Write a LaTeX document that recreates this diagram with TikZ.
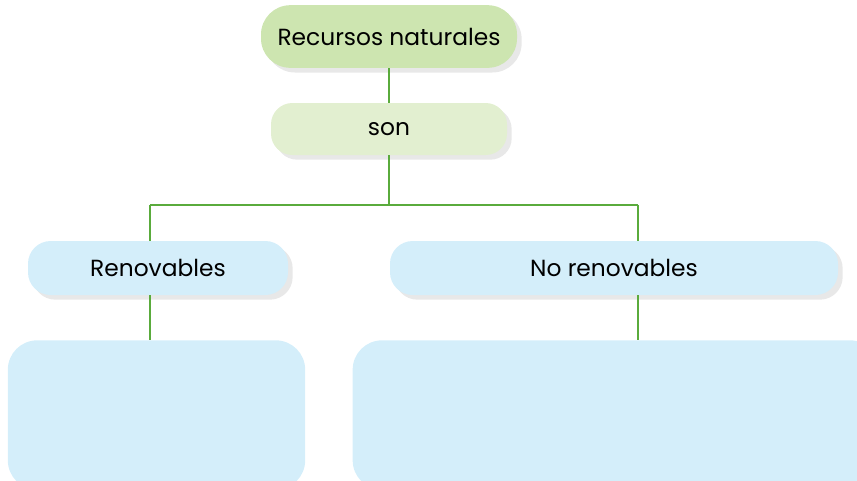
\documentclass[tikz,border=0pt]{standalone}
\usepackage{fontspec}
\setmainfont{Poppins}
\usepackage{tikz}
\usetikzlibrary{shadows}
\definecolor{leafgreen}{HTML}{CDE5B0}
\definecolor{palegreen}{HTML}{E2EFD0}
\definecolor{skyblue}{HTML}{D4EEFA}
\definecolor{linegreen}{HTML}{5AAB3C}
\tikzstyle{box}   = [rectangle, rounded corners=19pt, text centered, draw=none,
                     font=\fontsize{17.5}{21}\selectfont]
\tikzstyle{gbox}  = [box, fill=leafgreen, rounded corners=22pt, minimum width=192pt,
                     minimum height=47pt,
                     drop shadow={shadow xshift=3.5pt, shadow yshift=-3.5pt, fill=black!9, opacity=1}]
\tikzstyle{lgbox} = [box, fill=palegreen, rounded corners=16pt, minimum width=177pt,
                     minimum height=39pt,
                     drop shadow={shadow xshift=3.5pt, shadow yshift=-3.5pt, fill=black!9, opacity=1}]
\tikzstyle{bbox}  = [box, fill=skyblue, rounded corners=17pt, minimum height=40.5pt,
                     drop shadow={shadow xshift=3.5pt, shadow yshift=-3.5pt, fill=black!9, opacity=1}]
\tikzstyle{ebox}  = [box, fill=skyblue, rounded corners=22pt, minimum height=112pt]
\tikzstyle{link}  = [draw=linegreen, line width=0.8pt]
\begin{document}
\begin{tikzpicture}[x=0.75pt, y=-0.75pt]
  \useasboundingbox (0,0) rectangle (857,480);
  \clip (0,0) rectangle (857,480);

  \node[gbox] (top) at (389,36.5) {Recursos naturales};
  \node[lgbox] (son) at (389,129) {son};

  \node[bbox, minimum width=195pt] (ren) at (158,268) {Renovables};
  \node[bbox, minimum width=336pt] (noren) at (614,268) {No renovables};

  \node[ebox, minimum width=223pt] (renlist) at (156.5,415) {};
  \node[ebox, minimum width=395pt] (norenlist) at (616,415) {};

  % tree lines
  \coordinate (jl) at (150,205);
  \coordinate (jr) at (638,205);
  \draw[link] (top) -- (son);
  \draw[link] (son) -- (son |- jl);
  \draw[link] (jl) -- (jr);
  \draw[link] (jl) -- (jl |- ren.north);
  \draw[link] (jr) -- (jr |- noren.north);
  \draw[link] (jl |- ren.south) -- (jl |- renlist.north);
  \draw[link] (jr |- noren.south) -- (jr |- norenlist.north);
\end{tikzpicture}
\end{document}
